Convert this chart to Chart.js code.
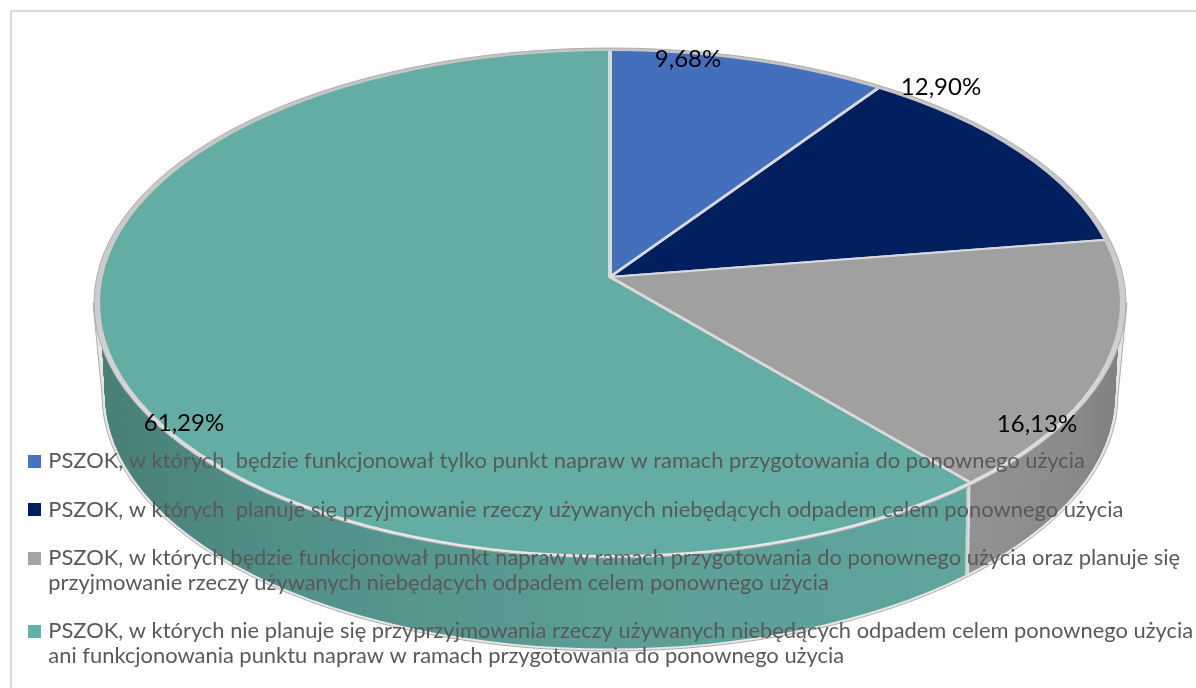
<!DOCTYPE html>
<html><head><meta charset="utf-8">
<style>html,body{margin:0;padding:0;background:#fff}canvas{display:block}</style>
<script src="https://cdn.jsdelivr.net/npm/chart.js@4/dist/chart.umd.js"></script>
</head><body><canvas id="c" width="1196" height="688"></canvas>
<script>
const categories = [
  ['PSZOK, w których  będzie funkcjonował tylko punkt napraw w ramach przygotowania do ponownego użycia'],
  ['PSZOK, w których  planuje się przyjmowanie rzeczy używanych niebędących odpadem celem ponownego użycia'],
  ['PSZOK, w których będzie funkcjonował punkt napraw w ramach przygotowania do ponownego użycia oraz planuje się','przyjmowanie rzeczy używanych niebędących odpadem celem ponownego użycia'],
  ['PSZOK, w których nie planuje się przyprzyjmowania rzeczy używanych niebędących odpadem celem ponownego użycia','ani funkcjonowania punktu napraw w ramach przygotowania do ponownego użycia']
];
const values = [9.68, 12.90, 16.13, 61.29];
const colors = ['#436FBC', '#001F5E', '#A0A0A0', '#63ADA5'];
const legendColors = ['#4472C4', '#001F5F', '#A5A5A5', '#63B0A8'];
const labelCenters = [[688,59],[941,87],[1037,424],[184,423]];

const TILT = 0.49, APEX = {x:610,y:277}, TOP = {x:610,y:303,rx:510,ry:252}, RIM = {rx:517,ry:255.5};
const WALL = {x:610,y:370,k:0.983}, BASE = {x:610,y:395,rx:508,ry:256};

function swatch(color){
  const s = document.createElement('canvas'); s.width = 13; s.height = 13;
  const c = s.getContext('2d'); c.fillStyle = color; c.fillRect(0,0,13,13);
  return s;
}
function wallFills(ctx){
  const t = ctx.createLinearGradient(100,0,980,0);
  t.addColorStop(0,'#4A807A'); t.addColorStop(0.2,'#52908A'); t.addColorStop(0.55,'#5A9E96'); t.addColorStop(1,'#60A69E');
  const g = ctx.createLinearGradient(975,0,1115,0);
  g.addColorStop(0,'#919191'); g.addColorStop(0.6,'#8B8B8B'); g.addColorStop(1,'#808080');
  return ['#2F5597','#001A4D',g,t];
}
function place(ctx,arc,ax,ay,sx,sy){ ctx.translate(ax,ay); ctx.scale(sx,sy); ctx.translate(-arc.x,-arc.y); }

const pie3d = {
  id:'pie3d',
  beforeLayout(chart){
    const lg = chart.legend;
    lg._layers = () => [{z:10, draw(a){ lg.draw(a); }}];
  },
  afterLayout(chart){ chart.legend.left = 9; chart.legend.top = 427; },
  beforeDraw(chart){
    const ctx = chart.ctx;
    ctx.save(); ctx.fillStyle='#D9D9D9';
    ctx.fillRect(10,10,1186,2); ctx.fillRect(10,10,2,678);
    ctx.restore();
  },
  beforeDatasetsDraw(chart){
    const ctx = chart.ctx, arcs = chart.getDatasetMeta(0).data, fills = wallFills(ctx);
    // outline of the side wall
    ctx.save();
    ctx.beginPath();
    ctx.moveTo(TOP.x-RIM.rx,TOP.y); ctx.lineTo(BASE.x-BASE.rx,BASE.y);
    ctx.ellipse(BASE.x,BASE.y,BASE.rx,BASE.ry,0,Math.PI,0,true);
    ctx.lineTo(TOP.x+RIM.rx,TOP.y); ctx.closePath();
    ctx.fillStyle='#E6E6E6'; ctx.fill();
    ctx.strokeStyle='#ADADAD'; ctx.lineWidth=1; ctx.stroke();
    ctx.restore();
    // side wall: the same slices extruded from the base up to the top face
    const depth = BASE.y-TOP.y;
    for(let d=depth;d>=0;d--){
      const t = d/depth;
      const ex = TOP.x+(BASE.x-TOP.x)*t, ey = TOP.y+(BASE.y-TOP.y)*t;
      const erx = TOP.rx+(BASE.rx-3-TOP.rx)*t, ery = TOP.ry+(BASE.ry-2.5-TOP.ry)*t;
      const k = 1+(WALL.k-1)*t;
      ctx.save();
      ctx.beginPath(); ctx.ellipse(ex,ey,erx,ery,0,0,Math.PI*2); ctx.clip();
      place(ctx,arcs[0],APEX.x+(WALL.x-APEX.x)*t,APEX.y+(WALL.y-APEX.y)*t,k,TILT*k);
      arcs.forEach((arc,i)=>{
        const saved = arc.options;
        arc.options = Object.assign(Object.create(saved),{backgroundColor:fills[i],borderColor:'#E4E4E4',borderWidth:5});
        arc.draw(ctx);
        arc.options = saved;
      });
      ctx.restore();
    }
    // rim
    ctx.save();
    const rg = ctx.createLinearGradient(0,TOP.y-RIM.ry,0,TOP.y+RIM.ry);
    rg.addColorStop(0,'#C4C4C4'); rg.addColorStop(0.5,'#CCCCCC'); rg.addColorStop(1,'#E8E8E8');
    ctx.beginPath(); ctx.ellipse(TOP.x,TOP.y,RIM.rx-1,RIM.ry-0.5,0,0,Math.PI*2);
    ctx.fillStyle=rg; ctx.fill();
    ctx.strokeStyle='#ADADAD'; ctx.lineWidth=1; ctx.stroke();
    ctx.restore();
  },
  beforeDatasetDraw(chart){
    const ctx = chart.ctx, arc = chart.getDatasetMeta(0).data[0];
    ctx.save();
    ctx.beginPath(); ctx.ellipse(TOP.x,TOP.y,TOP.rx,TOP.ry,0,0,Math.PI*2); ctx.clip();
    place(ctx,arc,APEX.x,APEX.y,1,TILT);
  },
  afterDatasetDraw(chart){ chart.ctx.restore(); },
  afterDraw(chart){
    const ctx = chart.ctx;
    ctx.save();
    ctx.font='24px Lato'; ctx.fillStyle='#000'; ctx.textAlign='center'; ctx.textBaseline='middle';
    values.forEach((v,i)=>ctx.fillText(v.toFixed(2).replace('.',',')+'%',labelCenters[i][0],labelCenters[i][1]));
    ctx.restore();
  }
};

new Chart(document.getElementById('c'),{
  type:'pie',
  data:{labels:categories,datasets:[{data:values,backgroundColor:colors,borderColor:'#DADADA',borderWidth:4,clip:false}]},
  options:{
    responsive:false,animation:false,radius:640,
    layout:{padding:0},
    plugins:{
      tooltip:{enabled:false},
      legend:{
        position:'chartArea',align:'start',
        labels:{
          usePointStyle:true,pointStyleWidth:5,boxHeight:13,padding:23.4,color:'#595959',
          font:{family:'Lato',size:21.9,lineHeight:1.14},
          generateLabels:()=>categories.map((t,i)=>({text:t,fontColor:'#595959',fillStyle:legendColors[i],strokeStyle:legendColors[i],lineWidth:0,pointStyle:swatch(legendColors[i]),index:i,hidden:false}))
        }
      }
    }
  },
  plugins:[pie3d]
});
</script></body></html>
